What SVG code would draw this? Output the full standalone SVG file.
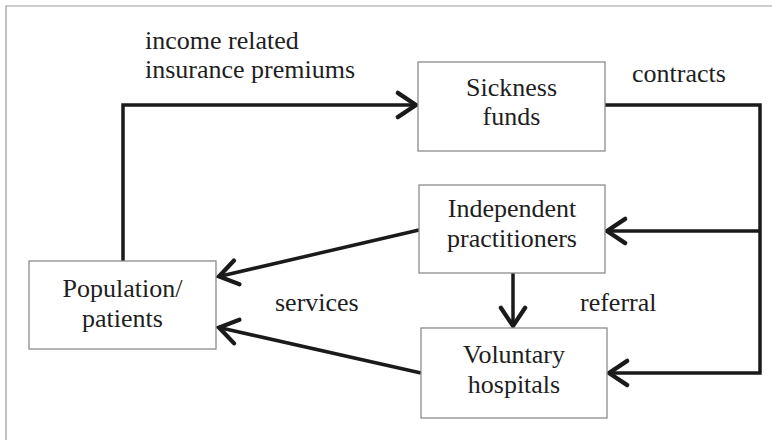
<svg xmlns="http://www.w3.org/2000/svg" width="772" height="440" viewBox="0 0 772 440">
  <defs>
    <marker id="arrow" markerUnits="userSpaceOnUse" markerWidth="34" markerHeight="34" viewBox="-18 -14 22 28" refX="0" refY="0" orient="auto">
      <path d="M -15 -10 L 0 0 L -15 10" fill="none" stroke="#1a1a1a" stroke-width="3.5" stroke-linecap="round" stroke-linejoin="miter"/>
    </marker>
    <style>
      .frame { fill: none; stroke: #9a9a9a; stroke-width: 1.2; }
      .box { fill: #ffffff; stroke: #8c8c8c; stroke-width: 1.3; }
      .label { font-size: 26px; fill: #1e1e1e; }
      .mid { text-anchor: middle; }
      .conn { fill: none; stroke: #1a1a1a; stroke-width: 3.5; stroke-linejoin: miter; }
    </style>
  </defs>

  <rect width="772" height="440" fill="#ffffff"/>
  <!-- outer frame, open to the right and bottom -->
  <path class="frame" d="M6 440 V6 H772"/>

  <!-- connectors -->
  <g id="connectors">
    <path class="conn" d="M123 261 V105 H416" marker-end="url(#arrow)"/>
    <path class="conn" d="M605 105 H760 V373 H609" marker-end="url(#arrow)"/>
    <path class="conn" d="M760 231 H607" marker-end="url(#arrow)"/>
    <path class="conn" d="M419 230 L219 276.5" marker-end="url(#arrow)"/>
    <path class="conn" d="M421 373 L219 327.5" marker-end="url(#arrow)"/>
    <path class="conn" d="M513 273 V326" marker-end="url(#arrow)"/>
  </g>

  <g font-family="Liberation Serif, Times New Roman, serif">
    <!-- connector labels -->
    <g id="labels">
      <text class="label" x="145" y="49">income related</text>
      <text class="label" x="145" y="78">insurance premiums</text>
      <text class="label" x="632" y="82">contracts</text>
      <text class="label" x="275" y="311">services</text>
      <text class="label" x="580" y="311">referral</text>
    </g>

    <g id="sickness-funds">
      <rect class="box" x="418" y="62" width="187" height="89"/>
      <text class="label mid" x="511.5" y="96">Sickness</text>
      <text class="label mid" x="511.5" y="125">funds</text>
    </g>

    <g id="independent-practitioners">
      <rect class="box" x="419" y="185" width="186" height="88"/>
      <text class="label mid" x="512" y="217">Independent</text>
      <text class="label mid" x="512" y="247">practitioners</text>
    </g>

    <g id="voluntary-hospitals">
      <rect class="box" x="421" y="328" width="186" height="90"/>
      <text class="label mid" x="514" y="363">Voluntary</text>
      <text class="label mid" x="514" y="393">hospitals</text>
    </g>

    <g id="population-patients">
      <rect class="box" x="29" y="261" width="187" height="88"/>
      <text class="label mid" x="122.5" y="297">Population/</text>
      <text class="label mid" x="122.5" y="327">patients</text>
    </g>
  </g>
</svg>
